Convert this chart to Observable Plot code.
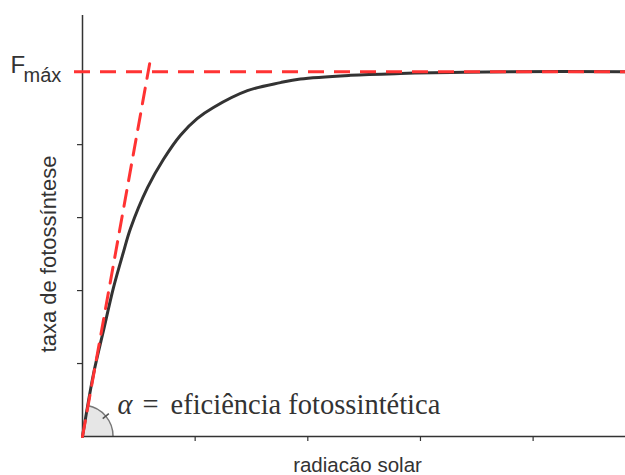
<!DOCTYPE html>
<html><head><meta charset="utf-8">
<script src="https://cdn.jsdelivr.net/npm/d3@7"></script>
<script src="https://cdn.jsdelivr.net/npm/@observablehq/plot@0.6"></script>
<style>
html,body{margin:0;padding:0;background:#fff;overflow:hidden}
#wrap{position:relative;width:625px;height:475px}
</style></head><body>
<div id="wrap"><div id="chart"></div></div>
<script>
const curveX = [0, 0.098, 0.186, 0.275, 0.364, 0.426, 0.577, 0.719, 0.870, 1.020, 1.162, 1.464, 1.757, 1.934, 2.378, 2.82, 3.27, 3.8, 4.82];
const curveY = [0, 0.86, 1.45, 2.04, 2.53, 2.85, 3.41, 3.80, 4.13, 4.36, 4.51, 4.74, 4.85, 4.90, 4.95, 4.975, 4.99, 5.0, 5.0];
const tangentX = [0, 0.596];
const tangentY = [0, 5.11];
const fMax = 5;
const xTicks = [1, 2, 3, 4];
const yTicks = [1, 2, 3, 4, 5];
const xLabel = "radiacão solar";
const yLabel = "taxa de fotossíntese";
const fLabel = "F";
const fSub = "máx";
const alphaSym = "α";
const eqSign = "=";
const alphaText = "eficiência fotossintética";

const curve = curveX.map((x, i) => ({x, y: curveY[i]}));
const tangent = tangentX.map((x, i) => ({x, y: tangentY[i]}));

const red = "#ff3333";
const ink = "#333";

const wedge = (...args) => {
  const s = args.find(a => a && typeof a.x === "function" && typeof a.y === "function");
  const x0 = s.x(0), y0 = s.y(0);
  const x1 = s.x(tangentX[1]), y1 = s.y(tangentY[1]);
  const a = Math.atan2(x1 - x0, y0 - y1);
  const r = 31;
  const g = d3.create("svg:g").attr("transform", `translate(${x0},${y0})`);
  g.append("path")
    .attr("d", d3.arc()({innerRadius: 0, outerRadius: r, startAngle: a, endAngle: Math.PI / 2}))
    .attr("fill", "#e6e6e6");
  const p = d3.path();
  p.arc(0, 0, r, a - Math.PI / 2, 0, false);
  g.append("path").attr("d", p.toString()).attr("fill", "none").attr("stroke", "#777").attr("stroke-width", 1.5);
  const m = (a + Math.PI / 2) / 2;
  g.append("line")
    .attr("x1", (r - 4) * Math.sin(m)).attr("y1", -(r - 4) * Math.cos(m))
    .attr("x2", (r + 4) * Math.sin(m)).attr("y2", -(r + 4) * Math.cos(m))
    .attr("stroke", "#555").attr("stroke-width", 1.5);
  return g.node();
};

const txt = {fill: ink, lineAnchor: "middle", text: d => d};

const chart = Plot.plot({
  width: 625,
  height: 475,
  marginLeft: 82,
  marginRight: 0,
  marginTop: 15,
  marginBottom: 39,
  style: {background: "#fff", overflow: "visible"},
  x: {domain: [0, 4.82]},
  y: {domain: [0, 5.77]},
  marks: [
    wedge,
    Plot.axisX({ticks: xTicks, tickSize: 5, tickFormat: () => "", stroke: ink, strokeWidth: 1.2, label: null}),
    Plot.axisY({ticks: yTicks, tickSize: 5, tickFormat: () => "", stroke: ink, strokeWidth: 1.2, label: null}),
    Plot.ruleX([0], {stroke: ink, strokeWidth: 1.5}),
    Plot.ruleY([0], {stroke: ink, strokeWidth: 1.5}),
    Plot.line(curve, {x: "x", y: "y", stroke: ink, strokeWidth: 3, curve: "catmull-rom"}),
    Plot.ruleY([fMax], {stroke: red, strokeWidth: 3, strokeDasharray: "16,10", insetLeft: -8}),
    Plot.line(tangent, {x: "x", y: "y", stroke: red, strokeWidth: 3, strokeDasharray: "16,10"}),
    Plot.text([fLabel], {...txt, frameAnchor: "left", y: [fMax], dx: -72, dy: -6.7, textAnchor: "start", fontSize: 24, fontFamily: "Liberation Sans"}),
    Plot.text([fSub], {...txt, frameAnchor: "left", y: [fMax], dx: -59, dy: 3.6, textAnchor: "start", fontSize: 20, fontFamily: "Liberation Sans"}),
    Plot.text([yLabel], {...txt, frameAnchor: "left", rotate: -90, textAnchor: "middle", dx: -34, dy: 28, fontSize: 22, fontFamily: "Liberation Sans"}),
    Plot.text([xLabel], {...txt, frameAnchor: "bottom", textAnchor: "middle", dx: 3.5, dy: 29, fontSize: 20.5, fontFamily: "Liberation Sans"}),
    Plot.text([alphaSym], {...txt, frameAnchor: "bottom-left", dx: 35, dy: -32.1, textAnchor: "start", fontSize: 28.5, fontStyle: "italic", fontFamily: "Liberation Serif"}),
    Plot.text([eqSign], {...txt, frameAnchor: "bottom-left", dx: 60, dy: -32.1, textAnchor: "start", fontSize: 28.5, fontFamily: "Liberation Serif"}),
    Plot.text([alphaText], {...txt, frameAnchor: "bottom-left", dx: 88, dy: -32.1, textAnchor: "start", fontSize: 28.5, fontFamily: "Liberation Serif"})
  ]
});
document.getElementById("chart").appendChild(chart);
</script>
</body></html>
